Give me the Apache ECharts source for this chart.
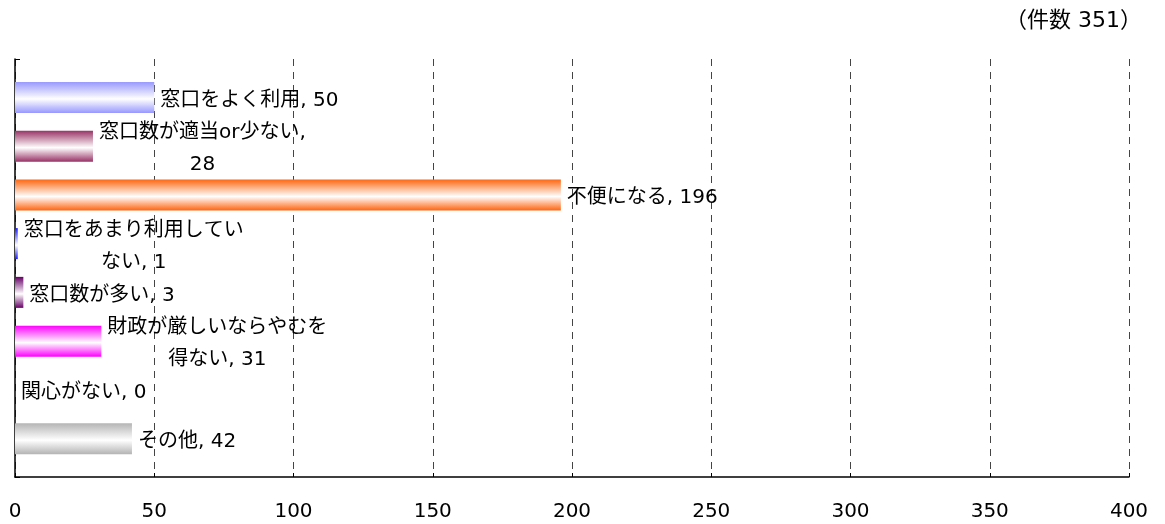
<!DOCTYPE html>
<html>
<head>
<meta charset="utf-8">
<script src="https://cdn.jsdelivr.net/npm/echarts@6/dist/echarts.min.js"></script>
<style>
html,body{margin:0;padding:0;background:#fff;}
#chart{width:1165px;height:524px;}
</style>
</head>
<body>
<div id="chart"></div>
<script>
const categories = ['窓口をよく利用', '窓口数が適当or少ない', '不便になる', '窓口をあまり利用していない', '窓口数が多い', '財政が厳しいならやむを得ない', '関心がない', 'その他'];
const values = [50, 28, 196, 1, 3, 31, 0, 42];
const barColors = ['#9999ff', '#993366', '#ff6611', '#1a1aff', '#660066', '#ff00ff', '#999999', '#b4b4b4'];
// character index in "name, value" where the reference label wraps (null = single line)
const breakAt = [null, 12, null, 11, null, 11, null, null];
const xTicks = [0, 50, 100, 150, 200, 250, 300, 350, 400];
const titleText = '（件数 351）';

const FONT = '"DejaVu Sans", "Noto Sans CJK JP", sans-serif';

function labelText(p) {
  const full = p.name + ', ' + p.value;
  const b = breakAt[p.dataIndex];
  if (!b) return full;
  const l1 = full.slice(0, b).trim();
  const l2 = full.slice(b).trim();
  return '{c|' + l1 + '}\n{c|' + l2 + '}';
}

const chart = echarts.init(document.getElementById('chart'), null, {renderer: 'canvas'});
const option = {
  animation: false,
  backgroundColor: '#fff',
  title: {
    text: titleText,
    right: 18,
    top: 5,
    textStyle: {fontSize: 22, fontWeight: 'normal', color: '#000', fontFamily: FONT}
  },
  grid: [
    {left: 15, right: 36, top: 73, bottom: 61},
    {left: 15, right: 36, top: 59, bottom: 47}
  ],
  xAxis: [
    {gridIndex: 0, type: 'value', min: xTicks[0], max: xTicks[xTicks.length - 1], interval: 50, show: false},
    {
      gridIndex: 1, type: 'value', min: xTicks[0], max: xTicks[xTicks.length - 1], interval: 50,
      axisLine: {show: true, lineStyle: {color: '#000', width: 1.5}},
      axisTick: {show: true, inside: true, length: 4, lineStyle: {color: '#000'}},
      axisLabel: {show: true, margin: 25, fontSize: 20, color: '#000', fontFamily: FONT},
      splitLine: {show: true, lineStyle: {color: '#444', width: 1, type: [7, 6]}}
    }
  ],
  yAxis: [
    {gridIndex: 0, type: 'category', data: categories, inverse: true, show: false},
    {
      gridIndex: 1, type: 'value', min: 0, max: 1, interval: 1,
      axisLine: {show: true, lineStyle: {color: '#000', width: 1.5}},
      axisTick: {show: true, inside: true, length: 5, lineStyle: {color: '#000'}},
      axisLabel: {show: false},
      splitLine: {show: false}
    }
  ],
  series: [{
    type: 'bar',
    xAxisIndex: 0,
    yAxisIndex: 0,
    barWidth: 31,
    data: values.map((v, i) => ({
      value: v,
      itemStyle: {
        color: new echarts.graphic.LinearGradient(0, 0, 0, 1, [
          {offset: 0, color: barColors[i]},
          {offset: 0.55, color: '#ffffff'},
          {offset: 1, color: barColors[i]}
        ])
      }
    })),
    label: {
      show: true,
      position: 'right',
      distance: 6,
      offset: [0, 3],
      formatter: labelText,
      fontSize: 20,
      color: '#000',
      fontFamily: FONT,
      lineHeight: 31,
      rich: {
        c: {align: 'center', fontSize: 20, color: '#000', fontFamily: FONT, lineHeight: 32}
      }
    }
  }]
};
chart.setOption(option);
</script>
</body>
</html>
